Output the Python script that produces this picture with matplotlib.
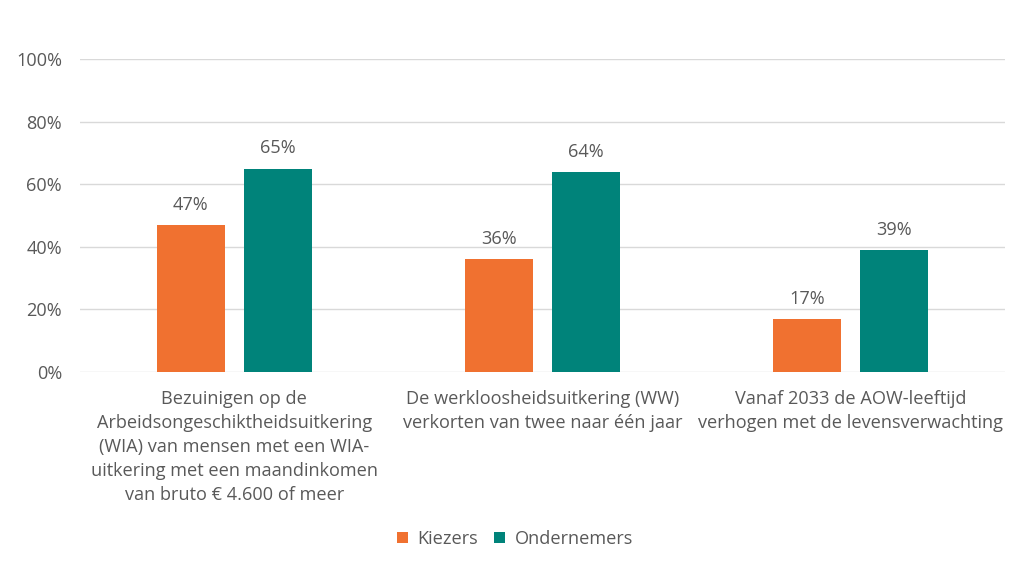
import matplotlib.pyplot as plt
import numpy as np

plt.rcParams['font.family'] = ['Open Sans', 'DejaVu Sans']

categories = [
    "Bezuinigen op de\nArbeidsongeschiktheidsuitkering\n(WIA) van mensen met een WIA-\nuitkering met een maandinkomen\nvan bruto € 4.600 of meer",
    "De werkloosheidsuitkering (WW)\nverkorten van twee naar één jaar",
    "Vanaf 2033 de AOW-leeftijd\nverhogen met de levensverwachting",
]
kiezers = [47, 36, 17]
ondernemers = [65, 64, 39]
series_names = ["Kiezers", "Ondernemers"]

orange = "#F07130"
teal = "#00837A"
grey = "#595959"
fs = 13.1

fig = plt.figure(figsize=(10.3, 5.79), dpi=100)
ax = fig.add_axes([0.0777, 0.3575, 0.898, 0.5405])

x = np.arange(len(categories))
w = 0.22
off = 0.141
b1 = ax.bar(x - off, kiezers, w, color=orange, label=series_names[0], zorder=3)
b2 = ax.bar(x + off, ondernemers, w, color=teal, label=series_names[1], zorder=3)

for bars, vals in [(b1, kiezers), (b2, ondernemers)]:
    for r, v in zip(bars, vals):
        ax.annotate(f"{v}%", (r.get_x() + r.get_width() / 2, v),
                    xytext=(0, 8), textcoords="offset points",
                    ha="center", va="bottom", fontsize=fs, color=grey)

ax.set_xlim(-0.5, 2.5)
ax.set_ylim(0, 100)
ax.set_yticks(range(0, 101, 20))
ax.set_yticklabels([f"{t}%" for t in range(0, 101, 20)], fontsize=fs, color=grey)
ax.set_xticks(x)
ax.set_xticklabels(categories, fontsize=fs, color=grey, linespacing=1.42)
ax.tick_params(axis="both", length=0)
ax.tick_params(axis="y", pad=13)
ax.tick_params(axis="x", pad=13)
ax.grid(axis="y", color="#D9D9D9", linewidth=1, zorder=0)
for s in ax.spines.values():
    s.set_visible(False)

fig.legend(loc="center", bbox_to_anchor=(0.5, 0.069), ncol=2, frameon=False,
           fontsize=fs, labelcolor=grey, handlelength=0.6, handleheight=0.6,
           handletextpad=0.5, columnspacing=0.9)

fig.savefig("out.png", dpi=100)
